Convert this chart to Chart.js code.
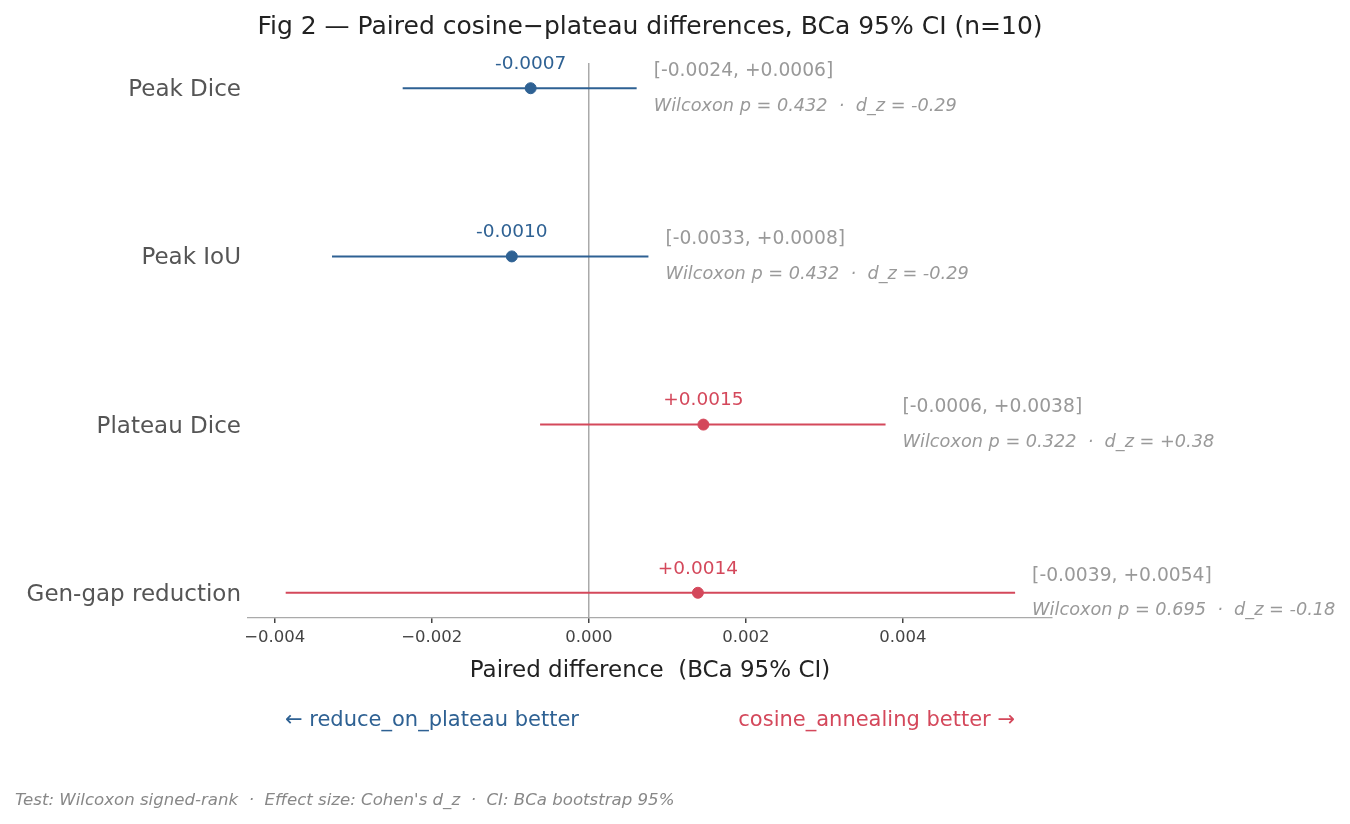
<!DOCTYPE html>
<html>
<head>
<meta charset="utf-8">
<script src="https://cdn.jsdelivr.net/npm/chart.js@4"></script>
<style>
  body { margin: 0; background: #fff; }
  canvas { display: block; }
</style>
</head>
<body>
<canvas id="forest" width="1350" height="824"></canvas>
<script>
const metrics = ["Peak Dice", "Peak IoU", "Plateau Dice", "Gen-gap reduction"];
const diffs = [-0.00074, -0.00098, 0.00146, 0.00139];
const ciLow = [-0.00237, -0.00327, -0.00062, -0.00386];
const ciHigh = [0.00061, 0.00076, 0.00378, 0.00543];
const pValues = ["0.432", "0.432", "0.322", "0.695"];
const dzValues = ["-0.29", "-0.29", "+0.38", "-0.18"];
const xTicks = [-0.004, -0.002, 0, 0.002, 0.004];

const BLUE = "#2e6193";
const RED = "#d4485b";
const FONT = "'DejaVu Sans', sans-serif";

const signed = v => (v >= 0 ? "+" : "-") + Math.abs(v).toFixed(4);
const rowColor = i => diffs[i] >= 0 ? RED : BLUE;

// one line dataset per confidence interval
const ciSets = metrics.map((m, i) => ({
    type: "line",
    data: [{ x: ciLow[i], y: i }, { x: ciHigh[i], y: i }],
    borderColor: rowColor(i),
    borderWidth: 2,
    pointRadius: 0,
    order: 2,
}));

const pointSet = {
    type: "scatter",
    data: diffs.map((d, i) => ({ x: d, y: i })),
    backgroundColor: diffs.map((d, i) => rowColor(i)),
    borderColor: diffs.map((d, i) => rowColor(i)),
    pointRadius: 5.5,
    order: 1,
};

const textPlugin = {
    id: "forestText",
    afterDraw(chart) {
        const c = chart.ctx;
        const xs = chart.scales.x, ys = chart.scales.y;
        const area = chart.chartArea;
        c.save();
        c.textBaseline = "middle";

        c.fillStyle = "#222";
        c.font = "25px " + FONT;
        c.textAlign = "center";
        c.fillText("Fig 2 \u2014 Paired cosine\u2212plateau differences, BCa 95% CI (n=10)", (area.left + area.right) / 2, 27);

        metrics.forEach((m, i) => {
            const y = ys.getPixelForValue(i);
            c.textAlign = "right";
            c.fillStyle = "#555";
            c.font = "23px " + FONT;
            c.fillText(m, area.left - 7, y + 2);

            c.textAlign = "center";
            c.fillStyle = rowColor(i);
            c.font = "18.5px " + FONT;
            c.fillText(signed(diffs[i]), xs.getPixelForValue(diffs[i]), y - 24);

            const tx = xs.getPixelForValue(ciHigh[i]) + 17;
            c.textAlign = "left";
            c.fillStyle = "#999";
            c.font = "18.7px " + FONT;
            c.fillText("[" + signed(ciLow[i]) + ", " + signed(ciHigh[i]) + "]", tx, y - 17);
            c.font = "italic 17.7px " + FONT;
            c.fillText("Wilcoxon p = " + pValues[i] + "  \u00b7  d_z = " + dzValues[i], tx, y + 18);
        });

        c.textAlign = "center";
        c.fillStyle = "#222";
        c.font = "23px " + FONT;
        c.fillText("Paired difference  (BCa 95% CI)", (area.left + area.right) / 2, 671);

        c.font = "21px " + FONT;
        c.textAlign = "left";
        c.fillStyle = BLUE;
        c.fillText("\u2190 reduce_on_plateau better", 285, 721);
        c.textAlign = "right";
        c.fillStyle = RED;
        c.fillText("cosine_annealing better \u2192", 1015, 721);

        c.textAlign = "left";
        c.fillStyle = "#888";
        c.font = "italic 16.6px " + FONT;
        c.fillText("Test: Wilcoxon signed-rank  \u00b7  Effect size: Cohen's d_z  \u00b7  CI: BCa bootstrap 95%", 15, 801);
        c.restore();
    },
};

new Chart(document.getElementById("forest").getContext("2d"), {
    data: { datasets: [...ciSets, pointSet] },
    options: {
        responsive: false,
        animation: false,
        layout: { padding: { left: 248, right: 298, top: 63, bottom: 0 } },
        plugins: { legend: { display: false }, tooltip: { enabled: false } },
        scales: {
            x: {
                type: "linear",
                min: -0.00434,
                max: 0.0059,
                afterFit: s => { s.height = 206; },
                afterBuildTicks: s => { s.ticks = xTicks.map(v => ({ value: v })); },
                border: { display: true, color: "#aaa", width: 1.2 },
                grid: {
                    color: ctx => (ctx.tick && ctx.tick.value === 0 ? "#aaa" : "rgba(0,0,0,0)"),
                    lineWidth: 1.5,
                    tickColor: "#444",
                    tickLength: 5,
                    drawTicks: true,
                },
                ticks: {
                    color: "#444",
                    font: { family: FONT, size: 16.5 },
                    padding: 5,
                    callback: v => (v < 0 ? "\u2212" : "") + Math.abs(v).toFixed(3),
                },
            },
            y: {
                type: "linear",
                min: -0.15,
                max: 3.15,
                reverse: true,
                display: false,
            },
        },
    },
    plugins: [textPlugin],
});
</script>
</body>
</html>
